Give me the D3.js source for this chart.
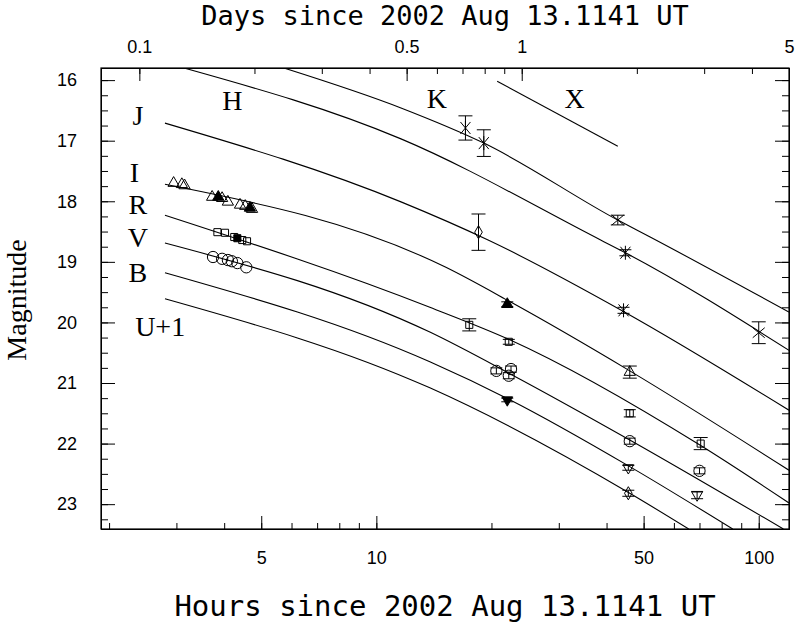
<!DOCTYPE html>
<html><head><meta charset="utf-8">
<script src="https://cdn.jsdelivr.net/npm/d3@7"></script>
<style>body{margin:0;background:#fff}</style>
</head><body><svg width="800" height="626"></svg>
<script>
// model curves: [hours, magnitude]
var curveK = [[5.73,15.80],[11.6,16.46],[19.1,17.04],[42.8,18.31],[52,18.59],[120,19.83]];
var curveH = [[3.14,15.80],[11.6,16.97],[38.6,18.64],[44.8,18.85],[120,20.46]];
var curveX = [[20.7,16.02],[42.8,17.09]];
var curveJ = [[2.8,16.71],[11.6,18.01],[19.6,18.64],[44.3,19.82],[120,21.45]];
var curveI = [[2.8,17.72],[15.2,19.09],[22.4,19.66],[46,20.80],[120,22.44]];
var curveR = [[2.8,18.23],[13.8,19.75],[22.4,20.29],[70,22.02],[120,22.98]];
var curveV = [[2.8,18.69],[13.8,20.16],[22.4,20.85],[46,21.94],[116,23.41]];
var curveB = [[2.8,19.18],[13.8,20.65],[22.4,21.28],[46,22.38],[85.5,23.41]];
var curveU = [[2.8,19.61],[13.8,21.08],[46,22.82],[65.6,23.41]];
var curves = [curveK, curveH, curveX, curveJ, curveI, curveR, curveV, curveB, curveU];

// observations: [hours, mag, error, symbol]
var obsK = [[17.1,16.79,0.2,"star"],[19.1,17.04,0.22,"star"],[42.8,18.31,0.08,"cross"],[100,20.17,0.18,"cross"]];
var obsH = [[44.8,18.85,0.05,"star"]];
var obsJ = [[18.5,18.51,0.3,"diam"],[44.3,19.80,0.05,"star"]];
var obsI = [[2.95,17.70,0,"tri"],[3.1,17.72,0,"tri"],[3.15,17.74,0,"tri"],
  [3.72,17.93,0,"tri"],[3.86,17.93,0,"triF"],[3.95,17.95,0,"tri"],[4.09,18.01,0,"tri"],
  [4.4,18.06,0,"tri"],[4.54,18.08,0,"tri"],[4.67,18.11,0,"triF"],[4.73,18.13,0,"tri"],
  [22.0,19.70,0.04,"triF"],[46,20.82,0.1,"tri"]];
var obsR = [[3.84,18.51,0,"sq"],[4.02,18.52,0,"sq"],[4.25,18.59,0,"sq"],[4.33,18.61,0,"sqF"],
  [4.46,18.64,0,"sq"],[4.59,18.66,0,"sq"],
  [17.5,20.04,0.1,"sq"],[22.2,20.32,0.04,"sq"],[46,21.50,0.06,"sq"],[70.5,22.00,0.1,"sq"]];
var obsV = [[3.74,18.92,0,"circ"],[3.95,18.95,0,"circ"],[4.09,18.97,0,"circ"],[4.19,18.99,0,"circ"],
  [4.33,19.02,0,"circ"],[4.57,19.09,0,"circ"],
  [20.6,20.80,0.05,"circ"],[22.5,20.77,0.05,"circ"],[22.2,20.88,0.05,"circ"],[46,21.96,0.05,"circ"],[70,22.45,0.05,"circ"]];
var obsB = [[22.0,21.28,0.03,"itriF"],[45.6,22.40,0.04,"itri"],[69,22.85,0.06,"itri"]];
var obsU = [[45.6,22.82,0.05,"diam"]];
var observations = [].concat(obsK, obsH, obsJ, obsI, obsR, obsV, obsB, obsU);

// band labels: [text, hours, mag] (label centre)
var bandLabels = [["H",4.2,16.33],["K",14.4,16.30],["X",33,16.30],["J",2.38,16.58],["I",2.33,17.52],
  ["R",2.38,18.05],["V",2.38,18.6],["B",2.38,19.17],["U+1",2.72,20.06]];
var magTicks = [16,17,18,19,20,21,22,23];
var hourTicks = [5,10,50,100];
var dayTicks = [0.1,0.5,1,5];

var m = {left:101, right:789, top:68, bottom:529};
var svg = d3.select("svg");
var x = d3.scaleLog().domain([1.905,120]).range([m.left,m.right]);
var y = d3.scaleLinear().domain([15.8,23.41]).range([m.top,m.bottom]);
var xd = d3.scaleLog().domain([1.905/24,5]).range([m.left,m.right]);

svg.append("defs").append("clipPath").attr("id","clip").append("rect")
  .attr("x",m.left).attr("y",m.top).attr("width",m.right-m.left).attr("height",m.bottom-m.top);

// axes (ticks pointing inward)
var minorH = [2,3,4,5,6,7,8,9,10,20,30,40,50,60,70,80,90,100];
var minorD = [0.1,0.2,0.3,0.4,0.5,0.6,0.7,0.8,0.9,1,2,3,4,5];
var minorM = d3.range(16,23.5,0.25);
function styleAxis(g){ g.select(".domain").remove(); g.selectAll("line").attr("stroke","#000"); }
svg.append("g").attr("transform","translate(0,"+m.bottom+")")
  .call(d3.axisBottom(x).tickValues(minorH).tickSize(-6).tickFormat(""));
svg.append("g").attr("transform","translate(0,"+m.bottom+")")
  .call(d3.axisBottom(x).tickValues(hourTicks).tickSize(-13).tickPadding(22).tickFormat(d3.format("d")))
  .call(styleAxis).selectAll("text").attr("font-size",18).attr("font-family","Liberation Sans");
svg.append("g").attr("transform","translate(0,"+m.top+")")
  .call(d3.axisTop(xd).tickValues(minorD).tickSize(-6).tickFormat(""));
svg.append("g").attr("transform","translate(0,"+m.top+")")
  .call(d3.axisTop(xd).tickValues(dayTicks).tickSize(-13).tickPadding(15).tickFormat(d=>d))
  .call(styleAxis).selectAll("text").attr("font-size",18).attr("font-family","Liberation Sans");
svg.append("g").attr("transform","translate("+m.left+",0)")
  .call(d3.axisLeft(y).tickValues(minorM).tickSize(-7).tickFormat(""));
svg.append("g").attr("transform","translate("+m.left+",0)")
  .call(d3.axisLeft(y).tickValues(magTicks).tickSize(-14).tickPadding(24).tickFormat(d3.format("d")))
  .call(styleAxis).selectAll("text").attr("font-size",18).attr("font-family","Liberation Sans");
svg.append("g").attr("transform","translate("+m.right+",0)")
  .call(d3.axisRight(y).tickValues(minorM).tickSize(-7).tickFormat(""));
svg.append("g").attr("transform","translate("+m.right+",0)")
  .call(d3.axisRight(y).tickValues(magTicks).tickSize(-14).tickFormat(""));
svg.selectAll(".domain").attr("stroke","#000");
svg.append("rect").attr("x",m.left).attr("y",m.top).attr("width",m.right-m.left).attr("height",m.bottom-m.top)
  .attr("fill","none").attr("stroke","#000").attr("stroke-width",1.2);

// curves
var line = d3.line().x(d=>x(d[0])).y(d=>y(d[1])).curve(d3.curveMonotoneX);
svg.append("g").attr("clip-path","url(#clip)").selectAll("path").data(curves).enter().append("path")
  .attr("d",line).attr("fill","none").attr("stroke","#000").attr("stroke-width",1.1);

// error bars
var pts = svg.append("g");
observations.filter(d=>d[2]>0).forEach(function(d){
  var cx=x(d[0]), y0=y(d[1]-d[2]), y1=y(d[1]+d[2]), w=d[2]>0.06?7:6;
  pts.append("path").attr("d","M"+cx+","+y0+"V"+y1+"M"+(cx-w)+","+y0+"H"+(cx+w)+"M"+(cx-w)+","+y1+"H"+(cx+w))
    .attr("stroke","#000").attr("fill","none");
});

// symbols
var symPath = {
  tri: d3.symbol(d3.symbolTriangle,55)(), triF: d3.symbol(d3.symbolTriangle,55)(),
  itri: d3.symbol(d3.symbolTriangle,50)(), itriF: d3.symbol(d3.symbolTriangle,50)(),
  sq: d3.symbol(d3.symbolSquare,50)(), sqF: d3.symbol(d3.symbolSquare,50)(),
  circ: d3.symbol(d3.symbolCircle,100)(), diam: d3.symbol(d3.symbolDiamond,50)(),
  cross: "M-6,-5L6,5M-6,5L6,-5", star: "M-5,-6L5,6M-5,6L5,-6M0,-7V7"
};
pts.selectAll(".sym").data(observations).enter().append("path")
  .attr("transform",d=>"translate("+x(d[0])+","+y(d[1])+")"+(d[3].indexOf("itri")==0?" rotate(180)":""))
  .attr("d",d=>symPath[d[3]])
  .attr("fill",d=>d[3].slice(-1)=="F"?"#000":"none")
  .attr("stroke","#000").attr("stroke-width",1);

// band labels
svg.append("g").selectAll("text").data(bandLabels).enter().append("text")
  .attr("x",d=>x(d[1])).attr("y",d=>y(d[2])).attr("text-anchor","middle").attr("dy","0.35em")
  .attr("font-family","Liberation Serif").attr("font-size",28).text(d=>d[0]);

// titles
svg.append("text").attr("x",445).attr("y",25).attr("text-anchor","middle")
  .attr("font-family","DejaVu Sans Mono").attr("font-size",27).text("Days since 2002 Aug 13.1141 UT");
svg.append("text").attr("x",445).attr("y",616).attr("text-anchor","middle")
  .attr("font-family","DejaVu Sans Mono").attr("font-size",29).text("Hours since 2002 Aug 13.1141 UT");
svg.append("text").attr("transform","translate(26,300) rotate(-90)").attr("text-anchor","middle")
  .attr("font-family","Liberation Serif").attr("font-size",28).text("Magnitude");
</script></body></html>
